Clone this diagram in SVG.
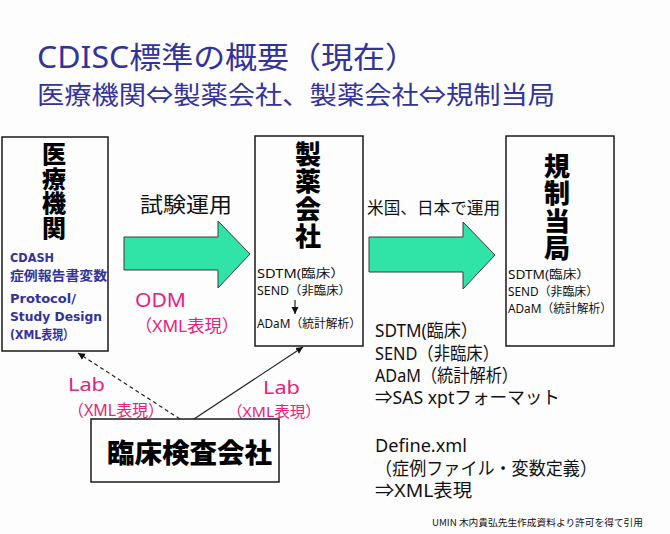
<svg xmlns="http://www.w3.org/2000/svg" width="670" height="534" viewBox="0 0 670 534">
<style>
.box{fill:none;stroke:#1a1a1a;stroke-width:1.5}
.big{font-family:"Noto Sans CJK JP",sans-serif;font-weight:900;font-size:26px;fill:#000}
.vert{writing-mode:vertical-rl;text-orientation:upright}
.blue{font-family:"DejaVu Sans","Noto Sans CJK JP",sans-serif;font-weight:700;font-size:13px;fill:#333399}
.sm{font-family:"Noto Sans","Noto Sans CJK JP",sans-serif;font-size:12px;fill:#111}
.pink{font-family:"Noto Sans","Noto Sans CJK JP",sans-serif;fill:#e3237c}
.body{font-family:"Noto Sans","Noto Sans CJK JP",sans-serif;font-size:18px;fill:#111}
.lab{font-family:"Noto Sans CJK JP",sans-serif;fill:#111}
.title{font-family:"Noto Sans","Noto Sans CJK JP",sans-serif;fill:#333399}
.garrow{fill:#30e3a6;stroke:#3a3a3a;stroke-width:1}
.conn{stroke:#222;stroke-width:1.2;fill:none}
</style>
<defs>
<marker id="ah" markerUnits="userSpaceOnUse" markerWidth="8" markerHeight="8" refX="7" refY="4" orient="auto">
<path d="M0,0.5 L7,4 L0,7.5 Z" fill="#111"/>
</marker>
</defs>
<rect width="670" height="534" fill="#fdfdfd"/>
<g id="title">
<text class="title" x="37" y="68" font-size="30" textLength="380" lengthAdjust="spacingAndGlyphs">CDISC標準の概要（現在）</text>
<text class="title" x="37" y="104" font-size="25" textLength="518" lengthAdjust="spacingAndGlyphs">医療機関⇔製薬会社、製薬会社⇔規制当局</text>
</g>
<g id="arrows">
<g id="arrow-trial">
<polygon class="garrow" points="124,237 218,237 218,221 250,254 218,288 218,270 124,270"/>
<text class="lab" x="140" y="212" font-size="21" textLength="92" lengthAdjust="spacingAndGlyphs">試験運用</text>
</g>
<g id="arrow-use">
<polygon class="garrow" points="369,237 463,237 463,222 495,255 463,289 463,272 369,272"/>
<text class="lab" x="367" y="214" font-size="16.5" textLength="133" lengthAdjust="spacingAndGlyphs">米国、日本で運用</text>
</g>
</g>
<g id="node-hospital">
<rect class="box" x="2" y="137" width="106" height="214"/>
<text class="big vert" x="54" y="142" style="font-size:24px" textLength="98" lengthAdjust="spacing">医療機関</text>
<text class="blue"><tspan x="10" y="262" textLength="44" lengthAdjust="spacingAndGlyphs">CDASH</tspan><tspan x="10" y="280" textLength="97" lengthAdjust="spacingAndGlyphs">症例報告書変数</tspan></text>
<text class="blue"><tspan x="10" y="303" textLength="66" lengthAdjust="spacingAndGlyphs">Protocol/</tspan><tspan x="10" y="321" textLength="92" lengthAdjust="spacingAndGlyphs">Study Design</tspan><tspan x="10" y="339" textLength="64" lengthAdjust="spacingAndGlyphs">(XML表現）</tspan></text>
</g>
<g id="node-pharma">
<rect class="box" x="255" y="136" width="108" height="210"/>
<text class="big vert" x="308" y="141" textLength="108" lengthAdjust="spacing">製薬会社</text>
<text class="sm"><tspan x="257" y="278" textLength="88" lengthAdjust="spacingAndGlyphs">SDTM(臨床）</tspan><tspan x="257" y="295" textLength="94" lengthAdjust="spacingAndGlyphs">SEND（非臨床）</tspan></text>
<text class="sm" x="257" y="328" textLength="104" lengthAdjust="spacingAndGlyphs">ADaM（統計解析）</text>
</g>
<g id="node-regulator">
<rect class="box" x="506" y="136" width="108" height="210"/>
<text class="big vert" x="557" y="153" textLength="108" lengthAdjust="spacing">規制当局</text>
<text class="sm"><tspan x="508" y="279" textLength="82" lengthAdjust="spacingAndGlyphs">SDTM(臨床）</tspan><tspan x="508" y="296" textLength="90" lengthAdjust="spacingAndGlyphs">SEND（非臨床）</tspan><tspan x="508" y="313" textLength="104" lengthAdjust="spacingAndGlyphs">ADaM（統計解析）</tspan></text>
</g>
<g id="node-lab">
<rect class="box" x="91" y="419" width="188" height="63"/>
<text class="big" x="107" y="463" style="font-size:27px" textLength="165" lengthAdjust="spacingAndGlyphs">臨床検査会社</text>
</g>
<g id="connectors">
<line class="conn" x1="295" y1="300" x2="295" y2="314" marker-end="url(#ah)"/>
<line class="conn" x1="180" y1="419" x2="78" y2="353" stroke-dasharray="4,3" marker-end="url(#ah)"/>
<line class="conn" x1="194" y1="419" x2="303" y2="347" marker-end="url(#ah)"/>
</g>
<g id="labels">
<text class="pink"><tspan x="135" y="307" font-size="20" textLength="51" lengthAdjust="spacingAndGlyphs">ODM</tspan><tspan x="135" y="332" font-size="17" textLength="104" lengthAdjust="spacingAndGlyphs">（XML表現）</tspan></text>
<text class="pink"><tspan x="68" y="391" font-size="18" textLength="37" lengthAdjust="spacingAndGlyphs">Lab</tspan><tspan x="68" y="416" font-size="16" textLength="96" lengthAdjust="spacingAndGlyphs">（XML表現）</tspan></text>
<text class="pink"><tspan x="263" y="394" font-size="18" textLength="37" lengthAdjust="spacingAndGlyphs">Lab</tspan><tspan x="227" y="417" font-size="15" textLength="94" lengthAdjust="spacingAndGlyphs">（XML表現）</tspan></text>
</g>
<g id="notes">
<text class="body"><tspan x="375" y="337" textLength="103" lengthAdjust="spacingAndGlyphs">SDTM(臨床）</tspan><tspan x="375" y="360" textLength="124" lengthAdjust="spacingAndGlyphs">SEND（非臨床）</tspan><tspan x="375" y="382" textLength="143" lengthAdjust="spacingAndGlyphs">ADaM（統計解析）</tspan><tspan x="375" y="404" textLength="185" lengthAdjust="spacingAndGlyphs">⇒SAS xptフォーマット</tspan></text>
<text class="body"><tspan x="375" y="452" textLength="92" lengthAdjust="spacingAndGlyphs">Define.xml</tspan><tspan x="375" y="475" textLength="222" lengthAdjust="spacingAndGlyphs">（症例ファイル・変数定義）</tspan><tspan x="375" y="497" textLength="97" lengthAdjust="spacingAndGlyphs">⇒XML表現</tspan></text>
<text class="lab" x="432" y="526" font-size="9.5" textLength="211" lengthAdjust="spacingAndGlyphs">UMIN 木内貴弘先生作成資料より許可を得て引用</text>
</g>
</svg>
